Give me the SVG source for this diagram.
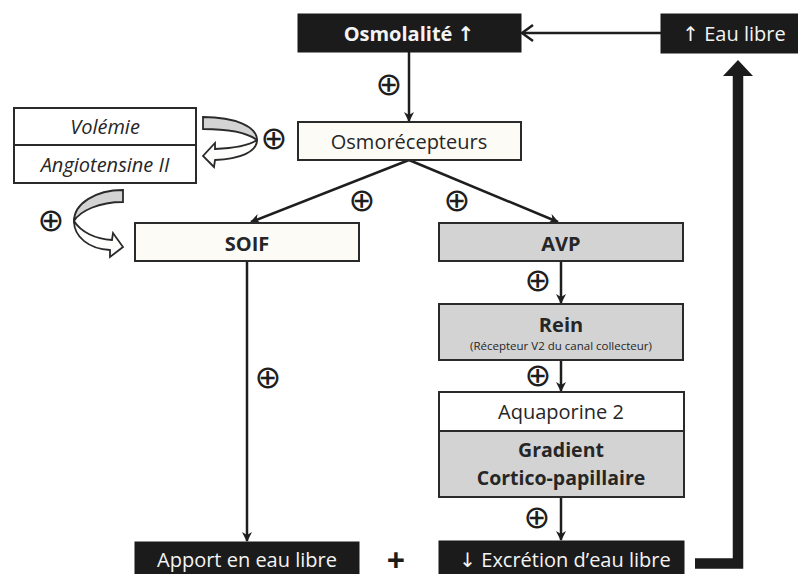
<svg xmlns="http://www.w3.org/2000/svg" width="798" height="574" viewBox="0 0 798 574">
<style>
.t{font-family:"Open Sans","DejaVu Sans",sans-serif;fill:#262626;text-anchor:middle}
.w{fill:#f4f4f4}
.b{font-weight:bold}
.box{stroke:#2a2a2a;stroke-width:2}
.blk{fill:#1b1b1b;stroke:#1b1b1b;stroke-width:1}
.gray{fill:#d3d3d3}
.cream{fill:#fdfbf6}
.wh{fill:#ffffff}
.ln{stroke:#1e1e1e;stroke-width:2.5;fill:none}
.plus{font-family:"DejaVu Sans",sans-serif;font-size:32px;fill:#1e1e1e;text-anchor:middle}
</style>
<defs>
<marker id="ah" markerWidth="10" markerHeight="10" refX="9" refY="5" orient="auto" markerUnits="userSpaceOnUse">
<path d="M0,0 L10,5 L0,10 L3,5 Z" fill="#1e1e1e"/>
</marker>
</defs>

<g id="connectors">
<line class="ln" x1="661" y1="33" x2="523" y2="33"/>
<path d="M533,25 L522,33 L533,41" fill="none" stroke="#1e1e1e" stroke-width="2.5"/>
<line class="ln" x1="409" y1="52" x2="409" y2="121" marker-end="url(#ah)"/>
<line class="ln" x1="409" y1="160" x2="251" y2="222" marker-end="url(#ah)"/>
<line class="ln" x1="409" y1="160" x2="558" y2="222" marker-end="url(#ah)"/>
<line class="ln" x1="247" y1="261" x2="247" y2="541" marker-end="url(#ah)"/>
<line class="ln" x1="561" y1="261" x2="561" y2="303" marker-end="url(#ah)"/>
<line class="ln" x1="561" y1="360" x2="561" y2="391" marker-end="url(#ah)"/>
<line class="ln" x1="561" y1="497" x2="561" y2="540" marker-end="url(#ah)"/>
<polyline points="695,563.5 738,563.5 738,74" fill="none" stroke="#1b1b1b" stroke-width="10.5"/>
<path d="M738,60 L753,76 L723,76 Z" fill="#1b1b1b"/>
<path d="M203,117 C236,117 257,127 257,140 C249,134 231,129 203,129 Z" fill="#d3d3d3" stroke="#2a2a2a" stroke-width="1.8"/>
<path d="M257,140 C257,152 240,159 215,160 L214,167 L203,156 L215,143 L215,149 C236,148 250,145 257,140 Z" fill="#fdfdfb" stroke="#2a2a2a" stroke-width="1.8"/>
<path d="M123,190 C95,190 74,204 74,221 C80,211 99,202 123,202 Z" fill="#d3d3d3" stroke="#2a2a2a" stroke-width="1.8"/>
<path d="M74,221 C74,237 89,249 110,250 L110,257 L123,247 L113,233 L112,240 C95,239 81,232 74,221 Z" fill="#fdfdfb" stroke="#2a2a2a" stroke-width="1.8"/>
</g>

<g id="plus-signs">
<text class="plus" x="389" y="95">⊕</text>
<text class="plus" x="274" y="149">⊕</text>
<text class="plus" x="51" y="231">⊕</text>
<text class="plus" x="362" y="211">⊕</text>
<text class="plus" x="457" y="211">⊕</text>
<text class="plus" x="538" y="291">⊕</text>
<text class="plus" x="538" y="386">⊕</text>
<text class="plus" x="537" y="528">⊕</text>
<text class="plus" x="268" y="388">⊕</text>
</g>

<g id="osmolalite">
<rect class="blk" x="298" y="14" width="223" height="38"/>
<text class="t w b" x="409" y="41" font-size="20">Osmolalité ↑</text>
</g>
<g id="eau-libre">
<rect class="blk" x="661" y="14" width="140" height="39"/>
<text class="t w" x="734" y="41" font-size="20">↑ Eau libre</text>
</g>
<g id="osmorecepteurs">
<rect class="box cream" x="298" y="122" width="223" height="38"/>
<text class="t" x="409" y="149" font-size="20">Osmorécepteurs</text>
</g>
<g id="volemie">
<rect class="box wh" x="14" y="108" width="182" height="37"/>
<text class="t" x="105" y="134" font-size="20" font-style="italic">Volémie</text>
</g>
<g id="angiotensine">
<rect class="box wh" x="14" y="145" width="182" height="38"/>
<text class="t" x="105" y="172" font-size="20" font-style="italic">Angiotensine II</text>
</g>
<g id="soif">
<rect class="box cream" x="135" y="223" width="224" height="38"/>
<text class="t b" x="247" y="251" font-size="20">SOIF</text>
</g>
<g id="avp">
<rect class="box gray" x="439" y="223" width="244" height="38"/>
<text class="t b" x="561" y="251" font-size="20">AVP</text>
</g>
<g id="rein">
<rect class="box gray" x="439" y="304" width="244" height="56"/>
<text class="t b" x="561" y="332" font-size="20">Rein</text>
<text class="t" x="561" y="350" font-size="11.5">(Récepteur V2 du canal collecteur)</text>
</g>
<g id="aquaporine">
<rect class="box wh" x="439" y="392" width="245" height="39"/>
<text class="t" x="561" y="419" font-size="20">Aquaporine 2</text>
</g>
<g id="gradient">
<rect class="box gray" x="439" y="431" width="245" height="66"/>
<text class="t b" x="561" y="457" font-size="19.5">Gradient</text>
<text class="t b" x="561" y="485" font-size="19.5">Cortico-papillaire</text>
</g>
<g id="apport">
<rect class="blk" x="135" y="542" width="224" height="40"/>
<text class="t w" x="247" y="567" font-size="20">Apport en eau libre</text>
</g>
<g id="plus-sum">
<text x="396" y="572" font-family="'Open Sans','DejaVu Sans',sans-serif" font-weight="bold" font-size="32" fill="#1b1b1b" text-anchor="middle">+</text>
</g>
<g id="excretion">
<rect class="blk" x="439" y="541" width="245" height="40"/>
<text class="t w" x="565" y="567" font-size="20">↓ Excrétion d’eau libre</text>
</g>
</svg>
